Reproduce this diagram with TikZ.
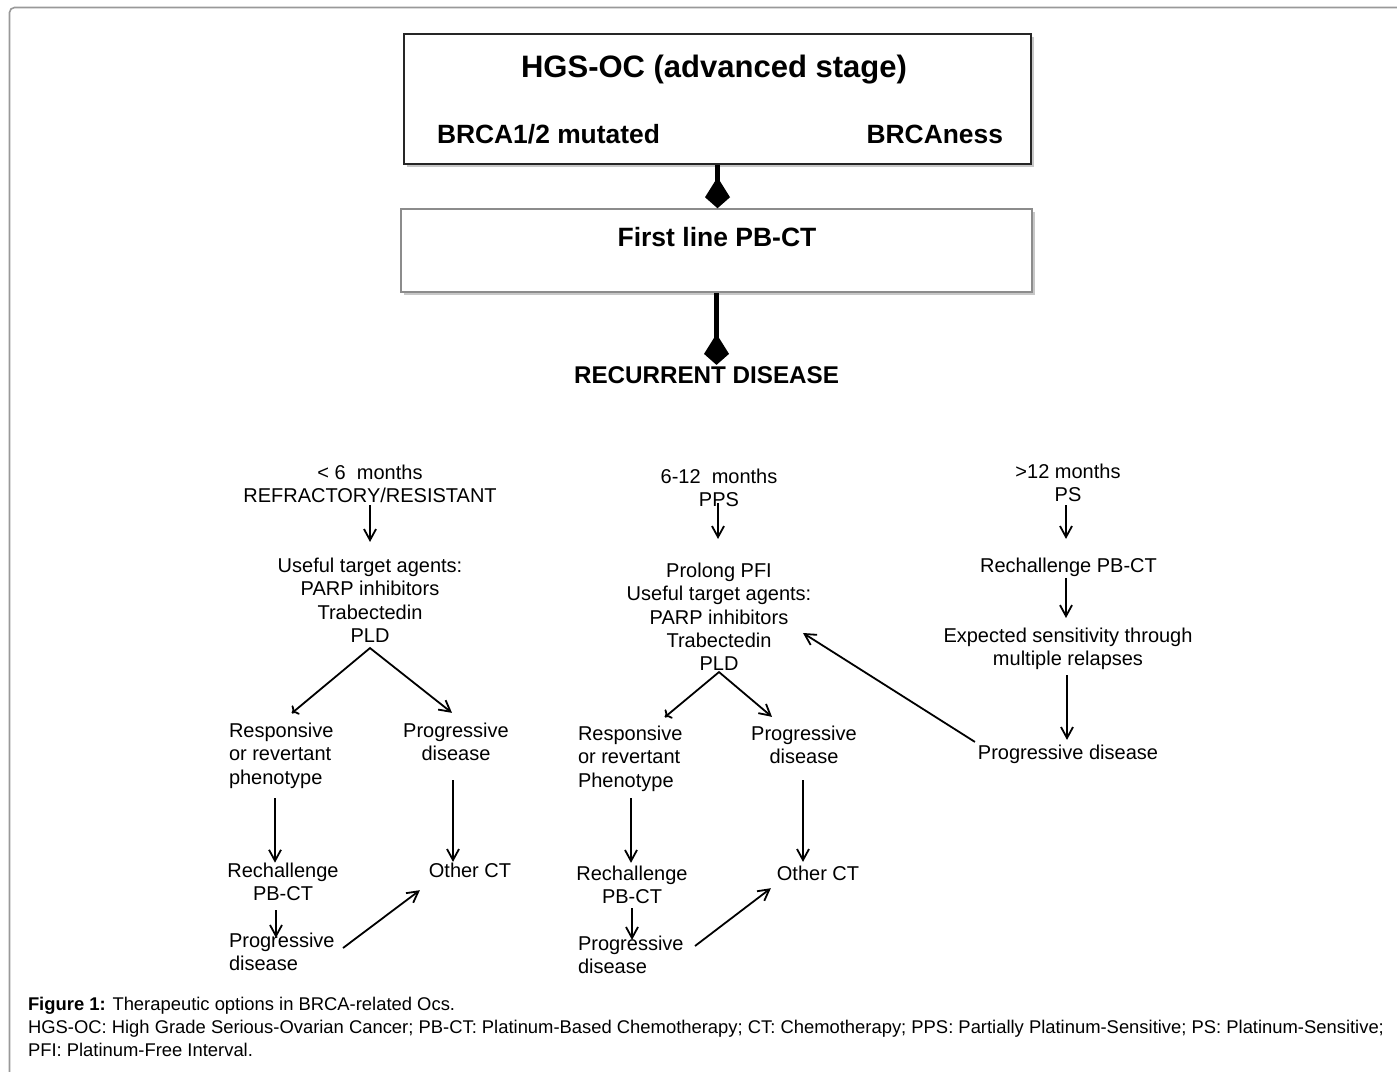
\documentclass[tikz,border=0pt]{standalone}
\usepackage{fontspec}
\setmainfont{Liberation Sans}
\usetikzlibrary{arrows.meta,calc,shadows}
\begin{document}
\begin{tikzpicture}[x=1pt,y=-1pt,
  txt/.style={inner sep=0pt,outer sep=0pt,align=center,font=\fontsize{20}{23.4}\selectfont},
  txtl/.style={txt,align=left},
  arr/.style={line width=1.8pt,-{Straight Barb[length=11pt,width=12pt]}},
  bigarr/.style={line width=5pt,-{Kite[length=31pt,width=25pt,inset=20pt]}},
  ttl/.style={inner sep=0pt,outer sep=0pt,font=\bfseries\fontsize{#1}{#1}\selectfont},
  boxshadow/.style={drop shadow={shadow xshift=2.5pt,shadow yshift=-3pt,opacity=0.22,fill=black}},
]
\useasboundingbox (0,0) rectangle (1397,1071);
\fill[white] (0,0) rectangle (1397,1071);
% outer frame
\draw[line width=1.6pt,draw=black!40,rounded corners=5pt] (9.5,1080) -- (9.5,7.5) -- (1405,7.5);

% top boxes
\node[draw=black!85,line width=2pt,fill=white,minimum width=627pt,minimum height=130pt,inner sep=0pt,boxshadow] (B1) at (717.5,99) {};
\node[draw=black!45,line width=1.5pt,fill=white,minimum width=631pt,minimum height=83pt,inner sep=0pt,boxshadow] (B2) at (716.5,250.5) {};
\node[ttl=31,anchor=base] (T1) at (714,77) {HGS-OC (advanced stage)};
\node[ttl=26.4,anchor=base west] (T2) at (437,143.5) {BRCA1/2 mutated};
\node[ttl=26.4,anchor=base east] (T3) at (1003,143.5) {BRCAness};
\node[ttl=26.5,anchor=base] (T4) at (717,246.5) {First line PB-CT};
\node[ttl=24.2,anchor=base] (RD) at (706.5,383.8) {RECURRENT DISEASE};

\draw[bigarr] (B1.south) -- (B1.south |- B2.north);
\draw[bigarr] (B2.south) -- ($(B2.south |- RD.north)+(0,-2)$);

% left column
\node[txt] (L1) at (370,483.7) {< 6\ \ months\\REFRACTORY/RESISTANT};
\node[txt] (L2) at (370,600.1) {Useful target agents:\\PARP inhibitors\\Trabectedin\\PLD};
\node[txtl,anchor=west] (L3) at (229,755.5) {Responsive\\or revertant\\phenotype};
\node[txt] (L4) at (456,741.7) {Progressive\\disease};
\node[txt] (L5) at (283,881.7) {Rechallenge\\PB-CT};
\node[txt,anchor=base] (L6) at (470,877.2) {Other CT};
\node[txtl,anchor=west] (L7) at (229,951.7) {Progressive\\disease};

\draw[arr] ($(L1.south)+(0,2.4)$) -- ($(L2.north)+(0,-15.8)$);
\coordinate (LA) at ($(L2.south)+(0,5.6)$);
\draw[arr,line join=miter] ($(L3.north)+(10.8,-9.8)$) -- (LA) -- ($(L4.north)+(-4,-9.8)$);
\draw[arr,<-] ($(L3.north)+(10.8,-9.8)$) -- ($(L3.north)+(12,-10.8)$);
\draw[arr] ($(L3.south)+(-6.2,9.8)$) -- ($(L5.north)+(-8,0)$);
\draw[arr] ($(L4.south)+(-3,19.4)$) -- ($(L6.north)+(-17,-0.8)$);
\draw[arr] ($(L5.south)+(-7,9.4)$) -- ($(L7.north)+(-5.8,5.2)$);
\draw[arr] ($(L7.east)+(8.4,-3.7)$) -- ($(L6.south west)+(-9,12.8)$);

% middle column
\node[txt] (M1) at (719,487.7) {6-12\ \ months\\PPS};
\node[txt] (M2) at (719,616.8) {Prolong PFI\\Useful target agents:\\PARP inhibitors\\Trabectedin\\PLD};
\node[txtl,anchor=west] (M3) at (578,758.5) {Responsive\\or revertant\\Phenotype};
\node[txt] (M4) at (804,744.7) {Progressive\\disease};
\node[txt] (M5) at (632,884.7) {Rechallenge\\PB-CT};
\node[txt,anchor=base] (M6) at (818,880.2) {Other CT};
\node[txtl,anchor=west] (M7) at (578,954.7) {Progressive\\disease};

\draw[arr] ($(M1.south)+(-1,-3.6)$) -- ($(M2.north)+(-1,-23.8)$);
\coordinate (MA) at ($(M2.south)+(0,1.2)$);
\draw[arr,line join=miter] ($(M3.north)+(34.8,-8.8)$) -- (MA) -- ($(M4.north)+(-32,-8.8)$);
\draw[arr,<-] ($(M3.north)+(34.8,-8.8)$) -- ($(M3.north)+(36,-9.8)$);
\draw[arr] ($(M3.south)+(0.8,6.8)$) -- ($(M5.north)+(-1,-2.8)$);
\draw[arr] ($(M4.south)+(-1,16.4)$) -- ($(M6.north)+(-15,-3.8)$);
\draw[arr] ($(M5.south)+(0,4.4)$) -- ($(M7.north)+(1.2,4.2)$);
\draw[arr] ($(M7.east)+(11.4,-8.7)$) -- ($(M6.south west)+(-6,7.8)$);

% right column
\node[txt] (R1) at (1068,482.7) {>12 months\\PS};
\node[txt,anchor=base] (R2) at (1068.5,572.2) {Rechallenge PB-CT};
\node[txt] (R3) at (1068,648.8) {Expected sensitivity through\\multiple relapses};
\node[txt,anchor=base] (R4) at (1068,759.2) {Progressive disease};

\draw[arr] ($(R1.south)+(-2,3.4)$) -- ($(R2.north)+(-2.5,-18.8)$);
\draw[arr] ($(R2.south)+(-2.5,1.6)$) -- ($(R3.north)+(-2,-9.8)$);
\draw[arr] ($(R3.south)+(-1,5.2)$) -- ($(R4.north)+(-1,-4.8)$);
\draw[arr] ($(R4.west)+(-3,-12.1)$) -- ($(M2.east)+(-8.3,16.2)$);

% caption
\node[inner sep=0pt,outer sep=0pt,align=left,anchor=west,font=\fontsize{18.4}{23}\selectfont] (CAP) at (28,1027)
 {\textbf{Figure 1:} Therapeutic options in BRCA-related Ocs.\\
  HGS-OC: High Grade Serious-Ovarian Cancer; PB-CT: Platinum-Based Chemotherapy; CT: Chemotherapy; PPS: Partially Platinum-Sensitive; PS: Platinum-Sensitive;\\
  PFI: Platinum-Free Interval.};
\end{tikzpicture}
\end{document}
